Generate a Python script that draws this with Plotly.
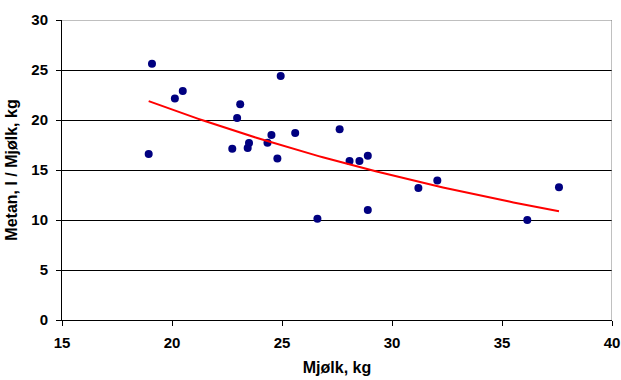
import numpy as np
import plotly.graph_objects as go

# Data
milk_kg = [18.94, 19.09, 20.13, 20.49, 22.74, 22.96, 23.10, 23.44, 23.50, 24.34,
           24.52, 24.79, 24.94, 25.60, 26.61, 27.62, 28.07, 28.52, 28.90, 28.90,
           31.20, 32.06, 36.15, 37.59]
methane_per_kg = [16.59, 25.62, 22.14, 22.90, 17.13, 20.21, 21.57, 17.19, 17.69, 17.72,
                  18.49, 16.16, 24.39, 18.69, 10.12, 19.08, 15.90, 15.90, 16.43, 10.99,
                  13.21, 13.94, 9.99, 13.28]

x_title = "Mjølk, kg"
y_title = "Metan, l / Mjølk, kg"

# Exponential trendline (Excel-style: least squares on ln y)
xa = np.array(milk_kg)
ya = np.array(methane_per_kg)
b, ln_a = np.polyfit(xa, np.log(ya), 1)
xt = np.linspace(xa.min(), xa.max(), 100)
yt = np.exp(ln_a) * np.exp(b * xt)

tick_font = dict(family="Liberation Sans", size=15, color="black", weight="bold")
title_font = dict(family="Liberation Sans", size=16, color="black", weight="bold")

fig = go.Figure()
fig.add_trace(go.Scatter(x=milk_kg, y=methane_per_kg, mode="markers",
                         marker=dict(color="#000080", size=8, line=dict(width=0)),
                         showlegend=False, hoverinfo="skip"))
fig.add_trace(go.Scatter(x=xt, y=yt, mode="lines",
                         line=dict(color="#FF0000", width=2),
                         showlegend=False, hoverinfo="skip"))

fig.update_layout(
    width=621, height=380,
    margin=dict(l=62, r=9, t=20, b=60),
    paper_bgcolor="white", plot_bgcolor="white",
    font=tick_font,
    xaxis=dict(range=[15, 40], dtick=5, tick0=15, showgrid=False, zeroline=False,
               showline=True, linecolor="black", linewidth=1,
               ticks="outside", ticklen=5, tickcolor="black",
               tickfont=tick_font, automargin=False, ticklabeloverflow="allow",
               ticklabelstandoff=4,
               title=dict(text=x_title, font=title_font, standoff=11)),
    yaxis=dict(range=[0, 30], dtick=5, tick0=0, showgrid=True, gridcolor="black", gridwidth=1,
               zeroline=False, showline=True, linecolor="black", linewidth=1,
               ticks="outside", ticklen=5, tickcolor="black",
               tickfont=tick_font, automargin=False, ticklabeloverflow="allow",
               ticklabelstandoff=5,
               title=dict(text=y_title, font=title_font, standoff=9)),
    shapes=[
        dict(type="line", xref="x", yref="y", x0=15, x1=40, y0=30, y1=30,
             line=dict(color="#808080", width=1), layer="above"),
        dict(type="line", xref="x", yref="y", x0=40, x1=40, y0=0, y1=30,
             line=dict(color="#808080", width=1), layer="above"),
    ],
)

fig.write_html("out.html", config={"displayModeBar": False},
               post_script="document.body.style.margin='0';document.body.style.overflow='hidden';")
